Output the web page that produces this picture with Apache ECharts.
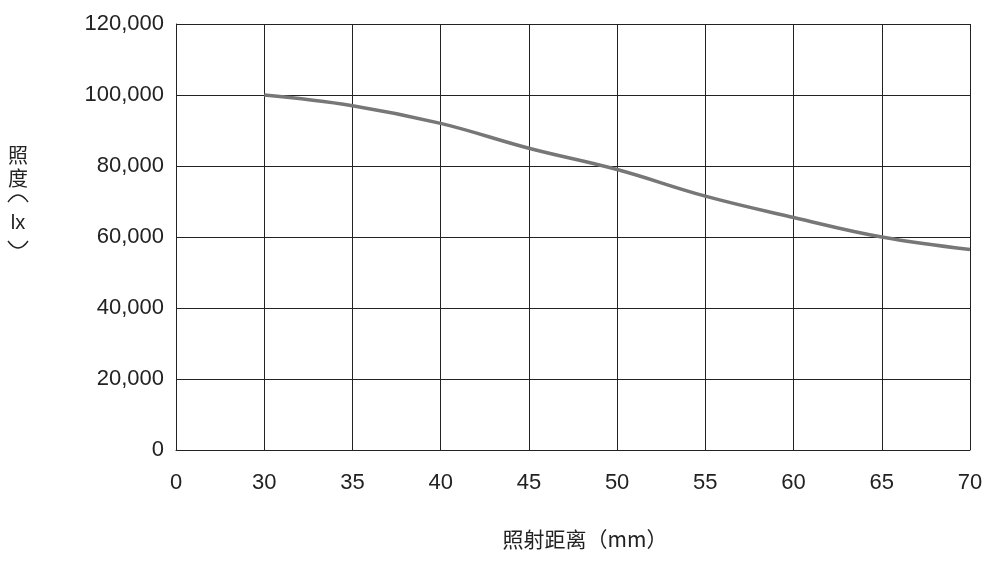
<!DOCTYPE html>
<html><head><meta charset="utf-8">
<script src="https://cdn.jsdelivr.net/npm/echarts@6/dist/echarts.min.js"></script>
<style>html,body{margin:0;padding:0;background:#fff}#c{width:1004px;height:563px}</style>
</head><body><div id="c"></div>
<script>
const distances = [30, 35, 40, 45, 50, 55, 60, 65, 70];
const illuminance = [100000, 97000, 92000, 85000, 79000, 71500, 65500, 60000, 56500];
const xTickLabels = ['0', '30', '35', '40', '45', '50', '55', '60', '65', '70'];
const xTickValues = [25, 30, 35, 40, 45, 50, 55, 60, 65, 70];
const xTitle = '照射距离（mm）';
const yTitleChars = ['照', '度', 'lx'];

const font = '"Liberation Sans", Arial, "Noto Sans CJK SC", sans-serif';
const cjk = '"Noto Sans CJK SC", "Liberation Sans", sans-serif';
const chart = echarts.init(document.getElementById('c'), null, {renderer: 'canvas'});

const yTitleY = [155, 178, 223];
const yTitleGraphics = yTitleChars.map((t, i) => ({
  type: 'text', x: 18, y: yTitleY[i],
  style: {
    text: t, fill: '#222', fontSize: 20,
    fontFamily: i === 2 ? '"Liberation Sans", sans-serif' : cjk,
    align: 'center', verticalAlign: 'middle'
  }
})).concat([
  {type: 'bezierCurve', shape: {x1: 8, y1: 202, x2: 28, y2: 202, cpx1: 18, cpy1: 188},
   style: {stroke: '#222', lineWidth: 1.4, fill: null}},
  {type: 'bezierCurve', shape: {x1: 8, y1: 241, x2: 28, y2: 241, cpx1: 18, cpy1: 255},
   style: {stroke: '#222', lineWidth: 1.4, fill: null}}
]);

chart.setOption({
  animation: false,
  backgroundColor: '#fff',
  grid: {left: 176, right: 34, top: 24, bottom: 113, containLabel: false},
  xAxis: {
    type: 'value', min: 25, max: 70, interval: 5,
    axisLine: {show: true, lineStyle: {color: '#222', width: 1}},
    axisTick: {show: false},
    splitLine: {show: true, lineStyle: {color: '#222', width: 1}},
    axisLabel: {
      margin: 22, color: '#222', fontSize: 22, fontFamily: font,
      formatter: v => xTickLabels[xTickValues.indexOf(v)] ?? ''
    }
  },
  yAxis: {
    type: 'value', min: 0, max: 120000, interval: 20000,
    axisLine: {show: true, lineStyle: {color: '#222', width: 1}},
    axisTick: {show: false},
    splitLine: {show: true, lineStyle: {color: '#222', width: 1}},
    axisLabel: {
      margin: 12, color: '#222', fontSize: 22, fontFamily: font,
      formatter: v => v.toLocaleString('en-US')
    }
  },
  graphic: [{
    type: 'text', x: 585, y: 539,
    style: {
      text: xTitle, fill: '#222', fontSize: 21, fontFamily: cjk,
      align: 'center', verticalAlign: 'middle'
    }
  }].concat(yTitleGraphics),
  series: [{
    type: 'line', smooth: 0.4, showSymbol: false,
    lineStyle: {color: '#777', width: 3.5},
    data: distances.map((d, i) => [d, illuminance[i]])
  }]
});
</script></body></html>
